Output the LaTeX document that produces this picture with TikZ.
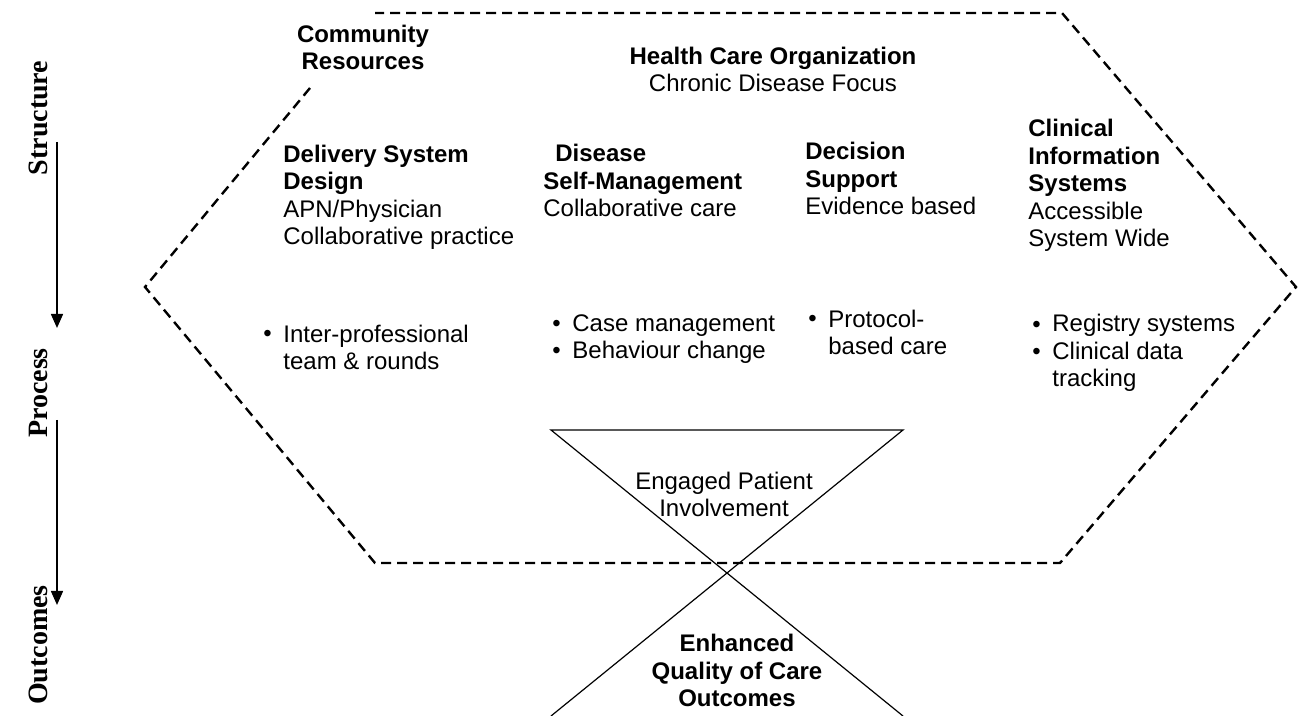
\documentclass[tikz,border=0pt]{standalone}
\usepackage{fontspec}
\setmainfont{Liberation Sans}
\newfontfamily\timesfont{Liberation Serif}
\usepackage{tikz}
\usetikzlibrary{arrows.meta}

% multi-line nodes sit on the baseline of their last line
\tikzset{
	txt/.style={inner sep=0pt, align=left, anchor=base west, font=\fontsize{12}{13.8}\selectfont},
	ctxt/.style={txt, align=center, anchor=base},
	side/.style={inner sep=0pt, rotate=90, font=\timesfont\bfseries\fontsize{14}{16}\selectfont},
	frame/.style={line width=1.2pt, dash pattern=on 5pt off 3pt},
	glass/.style={line width=0.6pt},
	flow/.style={line width=0.8pt, -{Triangle[width=6pt,length=7pt]}},
}

\begin{document}
\begin{tikzpicture}[x=0.5pt,y=-0.5pt]
		\useasboundingbox (0,0) rectangle (1298,716);
		% stages on the left
		\node[side] (structure) at (38,118) {Structure};
		\node[side] (process) at (38,393) {Process};
		\node[side] (outcomes) at (38,645) {Outcomes};
		\coordinate (s1) at (57,142);
		\coordinate (s2) at (57,328);
		\coordinate (p1) at (57,420);
		\coordinate (p2) at (57,605);
		\draw[flow] (s1) -- (s2);
		\draw[flow] (p1) -- (p2);
		% dashed frame, open under the community label
		\draw[frame] (310,88) -- (145,287) -- (375,563) -- (1060,563) -- (1296,287) -- (1062,13) -- (375,13);
		% hourglass
		\coordinate (tl) at (551,430);
		\coordinate (tr) at (903,430);
		\coordinate (bl) at (551,716);
		\coordinate (br) at (903,716);
		\draw[glass] (bl) -- (tr) -- (tl) -- (br);
		% headings
		\node[ctxt] (community) at (363,70) {\textbf{Community}\\\textbf{Resources}};
		\node[ctxt] (hco) at (773,92) {\textbf{Health Care Organization}\\Chronic Disease Focus};
		\node[txt] (delivery) at (283,245) {\textbf{Delivery System}\\\textbf{Design}\\APN/Physician\\Collaborative practice};
		\node[txt] (selfman) at (543,217) {\hspace*{0.5em}\textbf{Disease}\\\textbf{Self-Management}\\Collaborative care};
		\node[txt] (decision) at (805,215) {\textbf{Decision}\\\textbf{Support}\\Evidence based};
		\node[txt] (clinical) at (1028,247) {\textbf{Clinical}\\\textbf{Information}\\\textbf{Systems}\\Accessible\\System Wide};
		% process items
		\node[txt] (b1) at (263,342) {\textbullet};
		\node[txt] (rounds) at (283,370) {Inter-professional\\team \& rounds};
		\node[txt] (b2) at (552,359) {\textbullet\\\textbullet};
		\node[txt] (cases) at (572,359) {Case management\\Behaviour change};
		\node[txt] (b3) at (808,327) {\textbullet};
		\node[txt] (protocol) at (828,355) {Protocol-\\based care};
		\node[txt] (b4) at (1032,360) {\textbullet\\\textbullet};
		\node[txt] (registry) at (1052,387) {Registry systems\\Clinical data\\tracking};
		% hourglass labels
		\node[ctxt] (engaged) at (724,517) {Engaged Patient\\Involvement};
		\node[ctxt] (enhanced) at (737,707) {\textbf{Enhanced}\\\textbf{Quality of Care}\\\textbf{Outcomes}};
	\end{tikzpicture}
\end{document}
